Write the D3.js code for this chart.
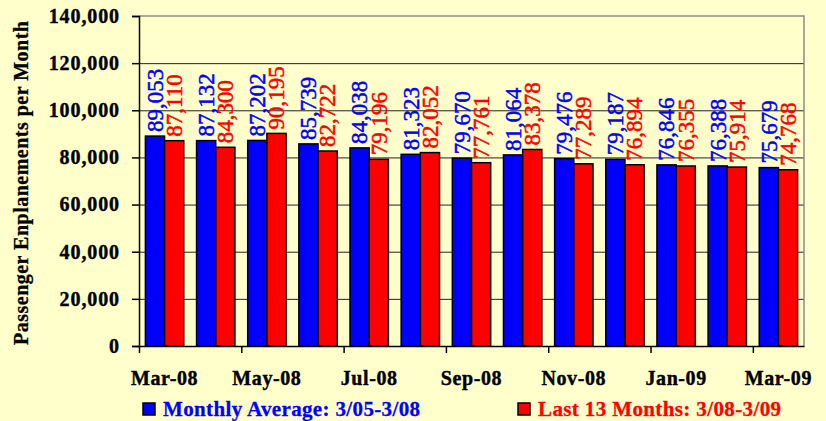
<!DOCTYPE html>
<html>
<head>
<meta charset="utf-8">
<script src="https://cdn.jsdelivr.net/npm/d3@7"></script>
<style>
  html, body { margin: 0; padding: 0; background: #ffffcc; }
  svg { display: block; }
  text { font-family: "Liberation Serif", "Times New Roman", serif; }
</style>
</head>
<body>
<script>
var months = ['Mar-08', 'Apr-08', 'May-08', 'Jun-08', 'Jul-08', 'Aug-08', 'Sep-08',
    'Oct-08', 'Nov-08', 'Dec-08', 'Jan-09', 'Feb-09', 'Mar-09'];
var monthlyAverage = [89053, 87132, 87202, 85739, 84038, 81323, 79670,
    81064, 79476, 79187, 76846, 76388, 75679];
var last13Months = [87110, 84300, 90195, 82722, 79196, 82052, 77761,
    83378, 77289, 76894, 76355, 75914, 74768];
var seriesNames = ['Monthly Average: 3/05-3/08', 'Last 13 Months: 3/08-3/09'];
var seriesColors = ['#0000ff', '#ff0000'];
var yTicks = [0, 20000, 40000, 60000, 80000, 100000, 120000, 140000];

(function () {
    var width = 826, height = 421,
        left = 139, right = 804, top = 16, bottom = 346,
        serif = '"Liberation Serif", "Times New Roman", serif';

    var svg = d3.select('body').append('svg')
        .attr('width', width)
        .attr('height', height);

    svg.append('rect')
        .attr('width', width)
        .attr('height', height)
        .attr('fill', '#ffffcc');

    var y = d3.scaleLinear().domain([0, 140000]).range([bottom, top]);

    var x0 = d3.scaleBand()
        .domain(months)
        .range([left, right])
        .paddingInner(0.25)
        .paddingOuter(0.125);

    var x1 = d3.scaleBand()
        .domain([0, 1])
        .range([0, x0.bandwidth()]);

    // gridlines
    svg.append('g')
        .attr('transform', 'translate(' + left + ',0)')
        .call(d3.axisLeft(y).tickValues(yTicks.slice(1, -1)).tickSize(-(right - left)).tickFormat(''))
        .call(function (g) {
            g.select('.domain').remove();
            g.selectAll('line').attr('stroke', '#222');
        });

    // plot border (top / right)
    svg.append('path')
        .attr('d', 'M' + left + ',' + top + 'H' + right + 'V' + bottom)
        .attr('fill', 'none')
        .attr('stroke', '#8c8c8c')
        .attr('stroke-width', 1.5);

    // bars
    var rows = months.map(function (m, i) {
        return { month: m, values: [monthlyAverage[i], last13Months[i]] };
    });

    var groups = svg.append('g').selectAll('g')
        .data(rows)
        .join('g')
        .attr('transform', function (d) { return 'translate(' + x0(d.month) + ',0)'; });

    groups.selectAll('rect')
        .data(function (d) { return d.values.map(function (v, k) { return { k: k, v: v }; }); })
        .join('rect')
        .attr('x', function (d) { return x1(d.k); })
        .attr('y', function (d) { return y(d.v); })
        .attr('width', x1.bandwidth())
        .attr('height', function (d) { return bottom - y(d.v); })
        .attr('fill', function (d) { return seriesColors[d.k]; })
        .attr('stroke', '#000')
        .attr('stroke-width', 1.5);

    // value labels, rotated above each bar
    groups.selectAll('text')
        .data(function (d) { return d.values.map(function (v, k) { return { k: k, v: v }; }); })
        .join('text')
        .attr('transform', function (d) {
            return 'translate(' + (x1(d.k) + x1.bandwidth() / 2) + ',' + (y(d.v) - 4) + ') rotate(-90)';
        })
        .attr('dy', '0.34em')
        .attr('fill', function (d) { return seriesColors[d.k]; })
        .attr('stroke', function (d) { return seriesColors[d.k]; })
        .attr('stroke-width', 0.5)
        .style('font-family', serif)
        .style('font-size', '23px')
        .text(function (d) { return d3.format(',')(d.v); });

    // y axis
    svg.append('g')
        .attr('transform', 'translate(' + left + ',0)')
        .call(d3.axisLeft(y).tickValues(yTicks).tickSize(7).tickPadding(12).tickFormat(d3.format(',')))
        .call(function (g) {
            g.select('.domain').attr('stroke', '#000').attr('stroke-width', 1.5);
            g.selectAll('line').attr('stroke', '#000').attr('stroke-width', 1.5);
            g.selectAll('text')
                .attr('fill', '#000')
                .attr('stroke', '#000')
                .attr('stroke-width', 0.4)
                .style('font-size', '20px')
                .style('font-weight', 'bold')
                .style('letter-spacing', '0.9px')
                .style('font-family', serif);
        });

    // x axis: ticks at every other category boundary
    var xi = d3.scaleLinear().domain([0, months.length]).range([left, right]);
    svg.append('g')
        .attr('transform', 'translate(0,' + bottom + ')')
        .call(d3.axisBottom(xi).tickValues(d3.range(0, months.length, 2)).tickSize(7).tickSizeOuter(0).tickFormat(''))
        .call(function (g) {
            g.select('.domain').attr('stroke', '#000').attr('stroke-width', 1.5);
            g.selectAll('line').attr('stroke', '#000').attr('stroke-width', 1.5);
        });

    // x labels at every other category centre
    svg.append('g')
        .attr('transform', 'translate(0,' + bottom + ')')
        .call(d3.axisBottom(x0).tickValues(months.filter(function (m, i) { return i % 2 === 0; })).tickSize(0).tickPadding(25))
        .call(function (g) {
            g.select('.domain').remove();
            g.selectAll('text')
                .attr('fill', '#000')
                .attr('stroke', '#000')
                .attr('stroke-width', 0.4)
                .style('font-size', '20px')
                .style('font-weight', 'bold')
                .style('letter-spacing', '0.6px')
                .style('font-family', serif);
        });

    // y title
    svg.append('text')
        .attr('transform', 'translate(21,183) rotate(-90)')
        .attr('text-anchor', 'middle')
        .attr('dy', '0.35em')
        .attr('textLength', 324)
        .attr('lengthAdjust', 'spacing')
        .attr('stroke', '#000')
        .attr('stroke-width', 0.3)
        .style('font-family', serif)
        .style('font-size', '20px')
        .style('font-weight', 'bold')
        .text('Passenger Enplanements per Month');

    // legend
    var legendX = [143, 518], legendLen = [257, 243];
    var legend = svg.append('g').selectAll('g')
        .data(seriesNames)
        .join('g')
        .attr('transform', function (d, i) { return 'translate(' + legendX[i] + ',403)'; });

    legend.append('rect')
        .attr('width', 12)
        .attr('height', 12)
        .attr('fill', function (d, i) { return seriesColors[i]; })
        .attr('stroke', '#000')
        .attr('stroke-width', 1.5);

    legend.append('text')
        .attr('x', 20)
        .attr('y', 13)
        .attr('fill', function (d, i) { return seriesColors[i]; })
        .attr('stroke', function (d, i) { return seriesColors[i]; })
        .attr('stroke-width', 0.3)
        .attr('textLength', function (d, i) { return legendLen[i]; })
        .attr('lengthAdjust', 'spacing')
        .style('font-family', serif)
        .style('font-size', '21px')
        .style('font-weight', 'bold')
        .text(function (d) { return d; });
}());
</script>
</body>
</html>
